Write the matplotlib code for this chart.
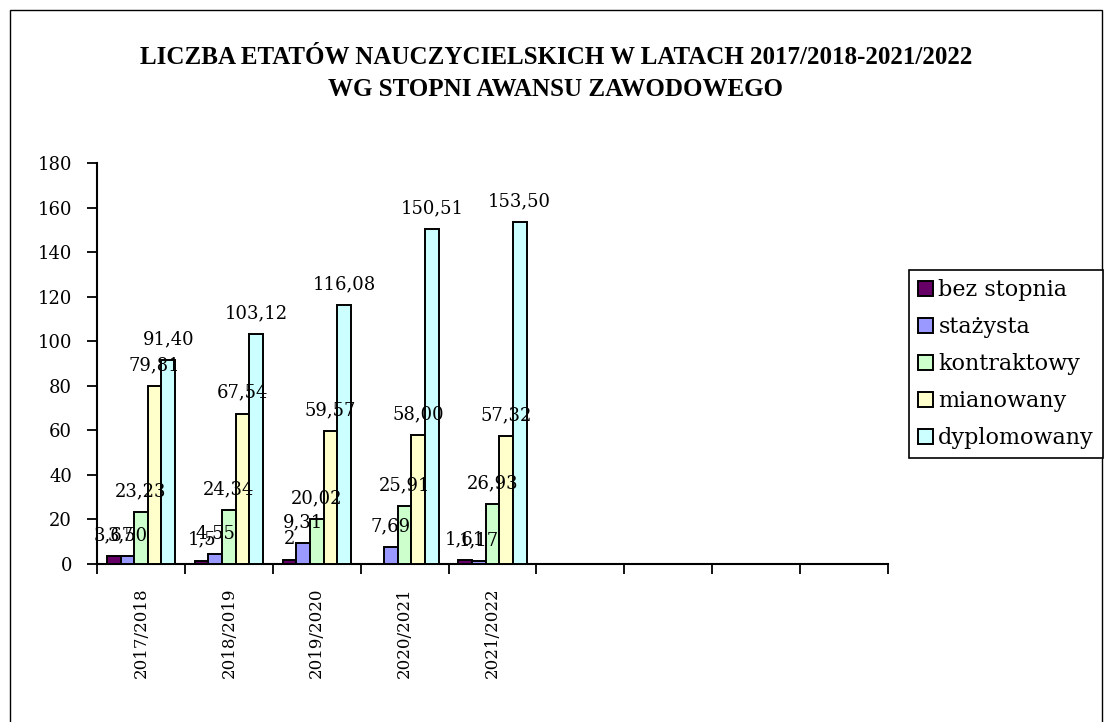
import matplotlib
matplotlib.use("Agg")
import matplotlib.pyplot as plt
from matplotlib.patches import Rectangle
import numpy as np

# ---- data ----
categories = ["2017/2018", "2018/2019", "2019/2020", "2020/2021", "2021/2022", "", "", "", ""]
series_names = ["bez stopnia", "stażysta", "kontraktowy", "mianowany", "dyplomowany"]
bez_stopnia = [3.67, 1.5, 2.0, np.nan, 1.61]
stazysta = [3.50, 4.55, 9.31, 7.69, 1.17]
kontraktowy = [23.23, 24.34, 20.02, 25.91, 26.93]
mianowany = [79.81, 67.54, 59.57, 58.00, 57.32]
dyplomowany = [91.40, 103.12, 116.08, 150.51, 153.50]
label_texts = [
    ["3,67", "1,5", "2", "", "1,61"],
    ["3,50", "4,55", "9,31", "7,69", "1,17"],
    ["23,23", "24,34", "20,02", "25,91", "26,93"],
    ["79,81", "67,54", "59,57", "58,00", "57,32"],
    ["91,40", "103,12", "116,08", "150,51", "153,50"],
]
yticks = [0, 20, 40, 60, 80, 100, 120, 140, 160, 180]
title_text = "LICZBA ETATÓW NAUCZYCIELSKICH W LATACH 2017/2018-2021/2022\nWG STOPNI AWANSU ZAWODOWEGO"

colors = ["#660066", "#9999FF", "#CCFFCC", "#FFFFCC", "#CCFFFF"]
serif = ["DejaVu Serif"]
title_serif = ["Liberation Serif", "DejaVu Serif"]

W, H = 1112, 722
fig = plt.figure(figsize=(W / 100, H / 100), dpi=100)
fig.patch.set_facecolor("white")

# outer frame
fig.add_artist(Rectangle((10 / W, -0.01), (1102 - 10) / W, (H - 10) / H + 0.01,
                         transform=fig.transFigure, fill=False, edgecolor="black",
                         linewidth=1.0))

ax = fig.add_axes([97 / W, 1 - 564 / H, (888 - 97) / W, (564 - 163) / H])
all_series = [bez_stopnia, stazysta, kontraktowy, mianowany, dyplomowany]
n_cat = len(categories)
n_ser = len(all_series)
group_w = 0.775
bw = group_w / n_ser
x = np.arange(n_cat)

for si, (vals, name, col) in enumerate(zip(all_series, series_names, colors)):
    xs = np.arange(len(vals)) - group_w / 2 + bw * (si + 0.5)
    ax.bar(xs, vals, width=bw, color=col, edgecolor="black", linewidth=1.4,
           label=name, zorder=3)
    for xi, v, t in zip(xs, vals, label_texts[si]):
        if t and not np.isnan(v):
            ax.annotate(t, (xi, v), xytext=(0, 15), textcoords="offset points",
                        ha="center", va="center", fontsize=13, family=serif,
                        color="black", zorder=5)

ax.set_xlim(-0.5, n_cat - 0.5)
ax.set_ylim(0, 180)
ax.set_yticks(yticks)
ax.set_yticklabels([str(v) for v in yticks], fontsize=13, family=serif)
ax.set_xticks(x)
ax.set_xticklabels(categories, rotation=90, fontsize=12, family=serif)
ax.set_xticks(np.arange(n_cat + 1) - 0.5, minor=True)
ax.tick_params(axis="x", which="major", length=0, pad=17)
ax.tick_params(axis="x", which="minor", length=7, width=1.3, direction="out")
ax.tick_params(axis="y", which="major", length=7, width=1.3, direction="out", pad=11)
for s in ["top", "right"]:
    ax.spines[s].set_visible(False)
for s in ["left", "bottom"]:
    ax.spines[s].set_linewidth(1.5)
    ax.spines[s].set_color("black")
ax.set_facecolor("white")

fig.text(0.5, 1 - 74 / H, title_text, ha="center", va="center", fontsize=18,
         fontweight="bold", family=title_serif, linespacing=1.5)

leg = fig.legend(loc="upper right", bbox_to_anchor=(1103 / W, 1 - 270 / H),
                 bbox_transform=fig.transFigure, prop={"family": serif, "size": 16},
                 frameon=True, fancybox=False, edgecolor="black", framealpha=1,
                 handlelength=0.65, handleheight=0.65, handletextpad=0.25,
                 labelspacing=0.68, borderpad=0.4, borderaxespad=0)
leg.get_frame().set_linewidth(1.2)
for h in leg.legend_handles:
    h.set_linewidth(1.4)

fig.savefig("out.png", dpi=100, facecolor="white")
